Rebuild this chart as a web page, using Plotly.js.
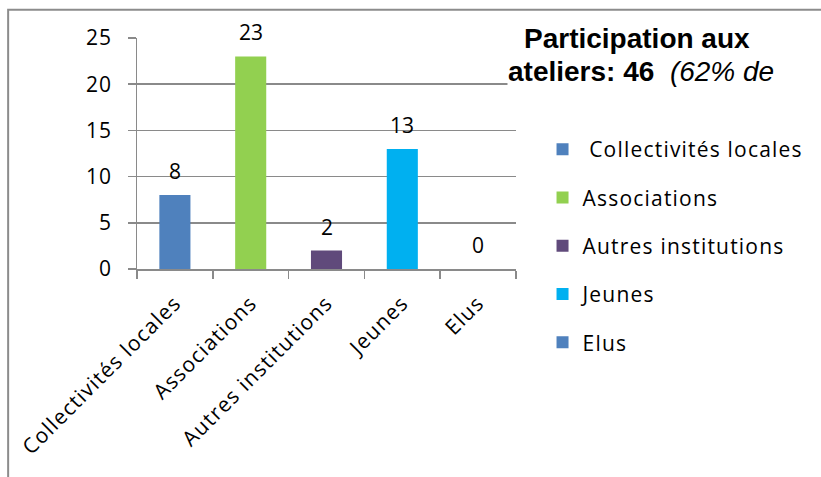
<!DOCTYPE html>
<html><head><meta charset="utf-8">
<script src="https://cdn.plot.ly/plotly-3.0.1.min.js"></script>
<style>
html,body{margin:0;padding:0;background:#fff}
.xtick text, .ytick text, .legendtext { letter-spacing: 1.2px; }
</style>
</head><body>
<div id="chart" style="width:821px;height:477px"></div>
<script>
const categories = ["Collectivités locales", "Associations", "Autres institutions", "Jeunes", "Elus"];
const legendNames = [" Collectivités locales", "Associations", "Autres institutions", "Jeunes", "Elus"];
const values = [8, 23, 2, 13, 0];
const colors = ["#4F81BD", "#92D050", "#604A7B", "#00B0F0", "#4F81BD"];
const yTicks = [0, 5, 10, 15, 20, 25];
const titleLine1 = "Participation aux";
const titleLine2a = "ateliers: 46";
const titleLine2b = "(62% de";

const FONT = "Open Sans, Lato, sans-serif";

const traces = categories.map((c, i) => ({
  type: "bar",
  x: [c],
  y: [values[i]],
  name: legendNames[i],
  legendgroup: "g" + i,
  marker: {color: colors[i]},
  width: 0.41,
  hoverinfo: "skip"
}));

const annotations = categories.map((c, i) => ({
  x: c, y: values[i], xref: "x", yref: "y",
  text: String(values[i]), showarrow: false,
  yanchor: "bottom", yshift: 8,
  font: {family: FONT, size: 21, color: "#000"}
}));

const TFONT = "Liberation Sans, Arial, sans-serif";
annotations.push({
  xref: "paper", yref: "paper", x: 1.319, y: 0.997,
  xanchor: "center", yanchor: "middle", showarrow: false,
  text: "<b>" + titleLine1 + "</b>",
  font: {family: TFONT, size: 28, color: "#000"},
  bgcolor: "#fff", borderpad: 0
});
annotations.push({
  xref: "paper", yref: "paper", x: 1.33, y: 0.855,
  xanchor: "center", yanchor: "middle", showarrow: false,
  text: "<b>" + titleLine2a + "</b>  <i>" + titleLine2b + "</i>",
  font: {family: TFONT, size: 28, color: "#000"},
  bgcolor: "#fff", borderpad: 0
});

const layout = {
  width: 821, height: 477,
  margin: {l: 137, r: 302, t: 37.5, b: 207.5, pad: 0},
  paper_bgcolor: "#fff", plot_bgcolor: "#fff",
  barmode: "overlay",
  showlegend: true,
  xaxis: {
    type: "category",
    tickangle: -45,
    tickson: "boundaries",
    ticks: "outside", ticklen: 8, tickcolor: "#8a8a8a", tickwidth: 1.5,
    showline: true, linecolor: "#8a8a8a", linewidth: 1.5,
    showgrid: false,
    ticklabelstandoff: 12,
    tickfont: {family: FONT, size: 21, color: "#000"},
    fixedrange: true
  },
  yaxis: {
    range: [0, 25],
    tickvals: yTicks,
    ticktext: yTicks.map(String),
    ticks: "outside", ticklen: 8, tickcolor: "#8a8a8a", tickwidth: 1.5,
    showline: true, linecolor: "#8a8a8a", linewidth: 1.5,
    showgrid: true, gridcolor: "#8a8a8a", gridwidth: 1.5,
    zeroline: false,
    ticklabelstandoff: 11,
    tickfont: {family: FONT, size: 21, color: "#000"},
    fixedrange: true
  },
  legend: {
    x: 1.07, xanchor: "left",
    y: 0.106, yanchor: "middle",
    traceorder: "grouped",
    tracegroupgap: 18,
    font: {family: FONT, size: 21, color: "#000"},
    bgcolor: "rgba(0,0,0,0)"
  },
  annotations: annotations,
  shapes: [{
    type: "rect", xref: "paper", yref: "paper",
    x0: -0.340, x1: 2.0, y0: -2.0, y1: 1.1228,
    line: {color: "#8c8c8c", width: 2}, layer: "below"
  }]
};

Plotly.newPlot("chart", traces, layout, {displayModeBar: false, staticPlot: true});
</script>
</body></html>
